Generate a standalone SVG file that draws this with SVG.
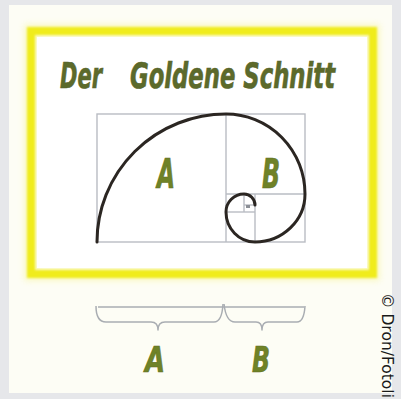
<svg xmlns="http://www.w3.org/2000/svg" width="401" height="399" viewBox="0 0 401 399">
<defs>
<style>
.grid{fill:none;stroke:#b9bcc3;stroke-width:1.4}
.brace{fill:none;stroke:#a9adb2;stroke-width:1.5;stroke-linejoin:round}
.title{font-family:"Liberation Sans Narrow","DejaVu Sans Condensed","DejaVu Sans",sans-serif;font-stretch:condensed;font-style:italic;font-weight:bold;fill:#5c6a2b;stroke:#55632a;stroke-width:0.6}
.lbl{font-family:"Liberation Sans Narrow","DejaVu Sans Condensed","DejaVu Sans",sans-serif;font-stretch:condensed;font-style:italic;font-weight:bold;fill:#6f8227;stroke:#5d6e22;stroke-width:0.6}
</style>
<filter id="glow" x="-10%" y="-10%" width="120%" height="120%">
<feGaussianBlur stdDeviation="3"/>
</filter>
<filter id="soft" x="-5%" y="-5%" width="110%" height="110%">
<feGaussianBlur stdDeviation="0.8"/>
</filter>
</defs>
<rect x="0" y="0" width="401" height="399" fill="#e6e7ea"/>
<rect x="9" y="5" width="383" height="388" fill="#fdfdf5"/>
<g id="frame">
<rect x="31" y="31" width="342" height="243" fill="none" stroke="#f5f27a" stroke-width="13" filter="url(#glow)" opacity="0.45"/>
<rect x="31" y="31" width="342" height="243" fill="none" stroke="#f0ec1e" stroke-width="8" filter="url(#soft)"/>
<rect x="37" y="37" width="330" height="231" fill="#ffffff"/>
</g>
<g id="title" transform="translate(0,88) scale(0.7,1)">
<text class="title" x="85.7" y="0" font-size="35" textLength="60" lengthAdjust="spacingAndGlyphs">Der</text>
<text class="title" x="185.7" y="0" font-size="35" textLength="293" lengthAdjust="spacingAndGlyphs">Goldene Schnitt</text>
</g>
<g id="grid">
<rect class="grid" x="97" y="114" width="208" height="128"/>
<line class="grid" x1="226" y1="114" x2="226" y2="242"/>
<line class="grid" x1="226" y1="194" x2="305" y2="194"/>
<line class="grid" x1="255" y1="194" x2="255" y2="242"/>
<line class="grid" x1="226" y1="212" x2="255" y2="212"/>
<line class="grid" x1="244" y1="194" x2="244" y2="212"/>
<line class="grid" x1="244" y1="205" x2="255" y2="205"/>
<rect x="246" y="205" width="4" height="3" fill="#8c8f96"/>
</g>
<g id="spiral">
<path d="M 97,242 A 129 128 0 0 1 226,114 A 79 80 0 0 1 305,194 A 50 48 0 0 1 255,242 A 29 30 0 0 1 226,212 A 18 18 0 0 1 244,194 A 11 11 0 0 1 255,205" fill="none" stroke="#2b2622" stroke-width="3" stroke-linecap="round"/>
</g>
<g id="labels">
<text class="lbl" x="157" y="188" font-size="40" textLength="18" lengthAdjust="spacingAndGlyphs">A</text>
<text class="lbl" x="262" y="188" font-size="40" textLength="18" lengthAdjust="spacingAndGlyphs">B</text>
</g>
<g id="connectors">
<line class="brace" x1="98" y1="307" x2="304" y2="307"/>
<path class="brace" d="M 96,306 Q 96,322 106,322 L 151,322 Q 158,322 158,330 Q 158,322 165,322 L 214,322 Q 222,322 223,304"/>
<path class="brace" d="M 224,304 Q 226,322 235,322 L 256,322 Q 262,322 262,330 Q 262,322 268,322 L 297,322 Q 304,322 305,306"/>
</g>
<g id="bottomlabels">
<text class="lbl" x="145" y="372" font-size="36" textLength="20" lengthAdjust="spacingAndGlyphs">A</text>
<text class="lbl" x="252" y="372" font-size="36" textLength="18" lengthAdjust="spacingAndGlyphs">B</text>
</g>
<text x="382" y="293" transform="rotate(90 382 293)" font-family="DejaVu Sans, sans-serif" font-size="15.5" fill="#1a1a1a">© Dron/Fotolia</text>
</svg>
